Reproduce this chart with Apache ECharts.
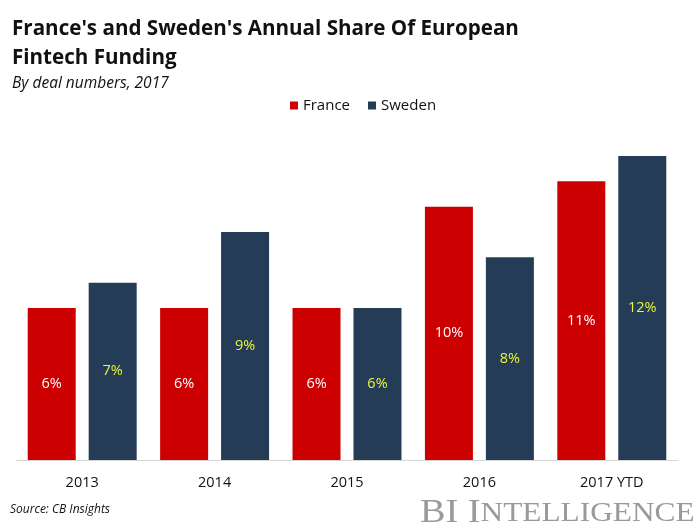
<!DOCTYPE html>
<html><head><meta charset="utf-8">
<script src="https://cdn.jsdelivr.net/npm/echarts@6/dist/echarts.min.js"></script>
<style>html,body{margin:0;padding:0;background:#fff}#c{width:700px;height:525px}</style>
</head><body><div id="c"></div>
<script>
const categories = ['2013', '2014', '2015', '2016', '2017 YTD'];
const france = [6, 6, 6, 10, 11];
const sweden = [7, 9, 6, 8, 12];
const seriesNames = ['France', 'Sweden'];

const chart = echarts.init(document.getElementById('c'));
chart.setOption({
  animation: false,
  backgroundColor: '#fff',
  title: [
    { text: "France's and Sweden's Annual Share Of European\nFintech Funding", left: 7, top: 10,
      textStyle: { fontFamily: 'Open Sans', fontWeight: 'bold', fontSize: 20.6, lineHeight: 29, color: '#111' } },
    { text: 'By deal numbers, 2017', left: 7, top: 71,
      textStyle: { fontFamily: 'Open Sans', fontStyle: 'italic', fontWeight: 'normal', fontSize: 15.5, color: '#111' } }
  ],
  legend: {
    data: seriesNames, top: 93, left: 285, itemWidth: 8, itemHeight: 8, itemGap: 18,
    icon: 'rect',
    textStyle: { fontFamily: 'Open Sans', fontSize: 15, color: '#111' }
  },
  grid: { left: 16, right: 22, top: 156, bottom: 65 },
  xAxis: {
    type: 'category', data: categories,
    axisLine: { lineStyle: { color: '#d9d9d9', width: 1 } },
    axisTick: { show: false },
    axisLabel: { fontFamily: 'Open Sans', fontSize: 14.5, color: '#111', margin: 15 }
  },
  yAxis: { type: 'value', min: 0, max: 12, show: false, splitLine: { show: false } },
  series: [
    { name: 'France', type: 'bar', data: france, barWidth: 48, barGap: '27%',
      itemStyle: { color: '#cc0000' },
      label: { show: true, position: 'inside', formatter: '{c}%', color: '#fff', fontFamily: 'Open Sans', fontSize: 14.5 } },
    { name: 'Sweden', type: 'bar', data: sweden, barWidth: 48,
      itemStyle: { color: '#243c55' },
      label: { show: true, position: 'inside', formatter: '{c}%', color: '#e8f53a', fontFamily: 'Open Sans', fontSize: 14.5 } }
  ],
  graphic: [
    { type: 'text', left: 10, top: 504,
      style: { text: 'Source: CB Insights', font: 'italic 12px "Open Sans"', fill: '#111' } },
    { type: 'text', x: 420, y: 530, scaleX: 1.16,
      style: { text: '{a|BI I}{b|NTELLIGENCE}', fill: '#9a9a9a', textVerticalAlign: 'bottom',
        rich: { a: { fontFamily: 'Liberation Serif', fontSize: 33, fill: '#9a9a9a' },
                b: { fontFamily: 'Liberation Serif', fontSize: 27, fill: '#9a9a9a' } } } }
  ]
});
</script></body></html>
